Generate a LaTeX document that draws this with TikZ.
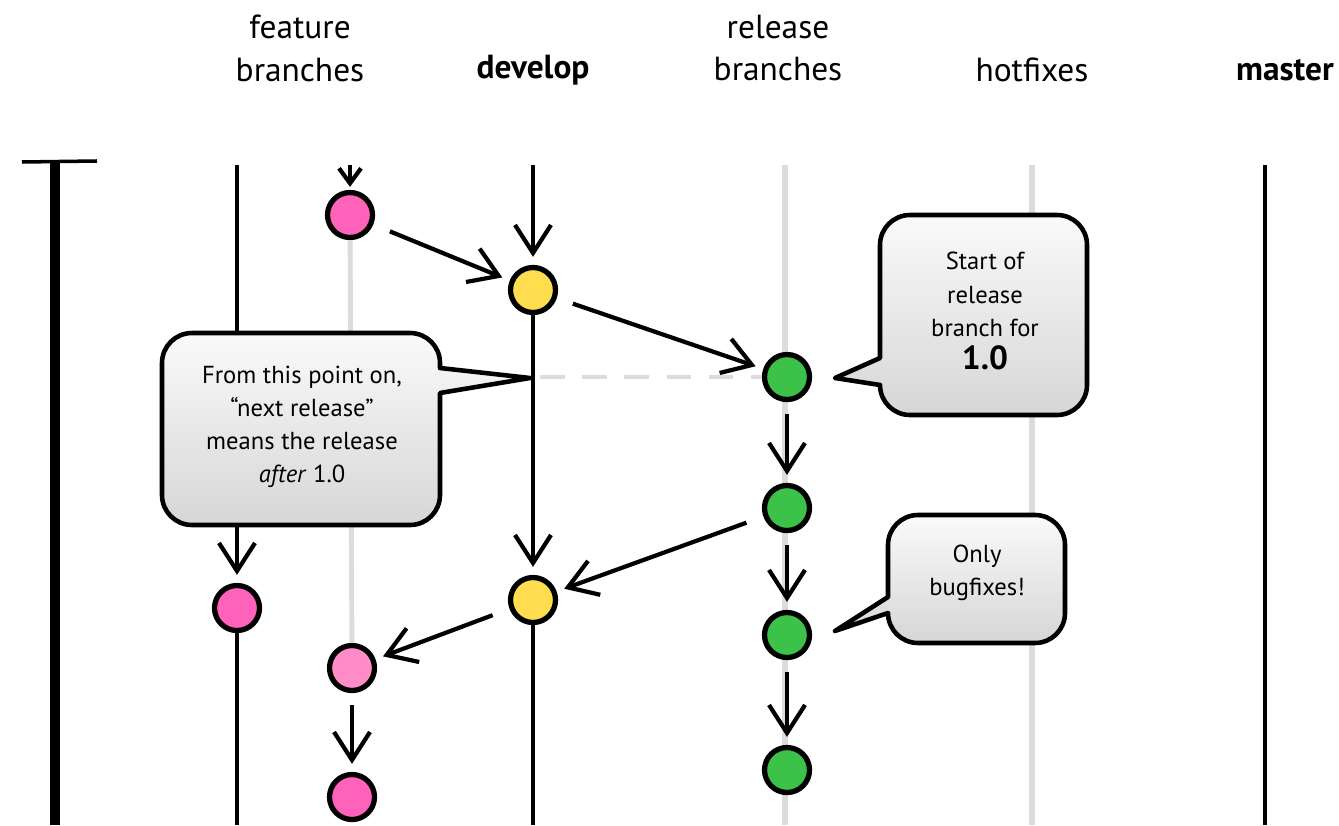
\documentclass[tikz,border=0pt]{standalone}
\usepackage{fontspec}
\setmainfont{PT Sans}
\usepackage{tikz}
\usetikzlibrary{arrows.meta}
\definecolor{fpink}{HTML}{FF62B9}
\definecolor{lpink}{HTML}{FF8CC6}
\definecolor{dyellow}{HTML}{FFDD4F}
\definecolor{rgreen}{HTML}{3CC248}
\definecolor{ghost}{HTML}{DCDCDC}
\tikzset{>={Straight Barb[length=2.8mm,width=3.6mm]}}
\tikzstyle{commit} = [circle, draw=black, line width=1.5pt, minimum size=4.5mm, inner sep=0pt]
\tikzstyle{flow} = [->, line width=1.2pt, shorten <=1.2mm, shorten >=0.8mm]
\tikzstyle{track} = [-, line width=1.1pt]
\tikzstyle{ghosttrack} = [-, line width=1.7pt, draw=ghost]
\tikzstyle{bubble} = [draw=black, line width=1.3pt, line join=round, top color=gray!4, bottom color=gray!32]
\tikzstyle{notetext} = [align=center, font=\fontsize{7}{9.4}\selectfont]
\tikzstyle{head} = [align=center, font=\fontsize{9.5}{12.2}\selectfont]

\begin{document}
\begin{tikzpicture}[x=0.1mm, y=-0.1mm]
\useasboundingbox (0,0) rectangle (1339,825);
\node [head] (Hfeat) at (300,48) {feature\\branches};
\node [head, font=\fontsize{9.5}{12.2}\selectfont\bfseries] (Hdev) at (533,70) {develop};
\node [head] (Hrel) at (778,48) {release\\branches};
\node [head] (Hhot) at (1032,70) {hotfixes};
\node [head, font=\fontsize{9.5}{12.2}\selectfont\bfseries] (Hmas) at (1285,70) {master};
\coordinate (tT) at (55,163);
\coordinate (bT) at (55,825);
\coordinate (cL) at (22,162);
\coordinate (cR) at (97,161);
\coordinate (tG) at (237,165);
\coordinate (bG) at (237,825);
\coordinate (tF) at (350,165);
\coordinate (tD) at (533,165);
\coordinate (bD) at (533,825);
\coordinate (mD) at (540,377);
\coordinate (tR) at (785,165);
\coordinate (bR) at (785,825);
\coordinate (tH) at (1032,165);
\coordinate (bH) at (1032,825);
\coordinate (tM) at (1265,165);
\coordinate (bM) at (1265,825);
\draw [ghosttrack] (tR) -- (bR);
\draw [ghosttrack] (tH) -- (bH);
\draw [line width=2.8pt] (tT) -- (bT);
\draw [line width=1pt] (cL) -- (cR);
\node [commit, fill=fpink] (F1) at (350,215) {};
\node [commit, fill=dyellow] (D1) at (533,290) {};
\node [commit, fill=rgreen] (R1) at (787,377) {};
\node [commit, fill=rgreen] (R2) at (787,508) {};
\node [commit, fill=dyellow] (D2) at (533,600) {};
\node [commit, fill=rgreen] (R3) at (787,635) {};
\node [commit, fill=rgreen] (R4) at (787,770) {};
\node [commit, fill=fpink] (G1) at (237,608) {};
\node [commit, fill=lpink] (F2) at (352,668) {};
\node [commit, fill=fpink] (F3) at (352,797) {};
\draw [ghosttrack, line width=1.4pt] (F1) -- (F2);
\draw [ghosttrack, dash pattern=on 7pt off 5pt, line width=1pt] (mD) -- (R1);
\draw [flow, shorten <=0pt] (tG) -- (G1);
\draw [track] (G1) -- (bG);
\draw [flow, shorten <=0pt, shorten >=0.3mm, >={Straight Barb[length=1.5mm,width=2.2mm]}] (tF) -- (F1);
\draw [flow, shorten <=0pt] (tD) -- (D1);
\draw [flow, shorten <=0pt] (D1) -- (D2);
\draw [track] (D2) -- (bD);
\draw [track, line width=1.2pt] (tM) -- (bM);
\draw [flow, shorten <=1.8mm] (F1) -- (D1);
\draw [flow, shorten <=1.7mm] (D1) -- (R1);
\draw [flow] (R1) -- (R2);
\draw [flow, shorten <=1.8mm] (R2) -- (D2);
\draw [flow] (R2) -- (R3);
\draw [flow] (R3) -- (R4);
\draw [flow, shorten <=1.8mm] (D2) -- (F2);
\draw [flow] (F2) -- (F3);
\draw [bubble] (192,333) -- (410,333) arc [start angle=90, end angle=0, radius=3mm] -- (440,368) -- (530,378) -- (440,393) -- (440,495) arc [start angle=0, end angle=-90, radius=3mm] -- (192,525) arc [start angle=270, end angle=180, radius=3mm] -- (162,363) arc [start angle=180, end angle=90, radius=3mm] -- cycle;
\draw [bubble] (910,215) -- (1057,215) arc [start angle=90, end angle=0, radius=3mm] -- (1087,385) arc [start angle=0, end angle=-90, radius=3mm] -- (910,415) arc [start angle=270, end angle=180, radius=3mm] -- (880,385) -- (835,378) -- (880,358) -- (880,245) arc [start angle=180, end angle=90, radius=3mm] -- cycle;
\draw [bubble] (918,515) -- (1035,515) arc [start angle=90, end angle=0, radius=3mm] -- (1065,613) arc [start angle=0, end angle=-90, radius=3mm] -- (918,643) arc [start angle=270, end angle=180, radius=3mm] -- (888,613) -- (835,631) -- (888,597) -- (888,545) arc [start angle=180, end angle=90, radius=3mm] -- cycle;
\node [notetext] (N1) at (302,427) {From this point on,\\“next release”\\means the release\\\textit{after} 1.0};
\node [notetext] (N2) at (985,311) {Start of\\release\\branch for\\{\bfseries\fontsize{9.5}{9.4}\selectfont 1.0}};
\node [notetext] (N3) at (977,573) {Only\\bugfixes!};
\end{tikzpicture}
\end{document}
